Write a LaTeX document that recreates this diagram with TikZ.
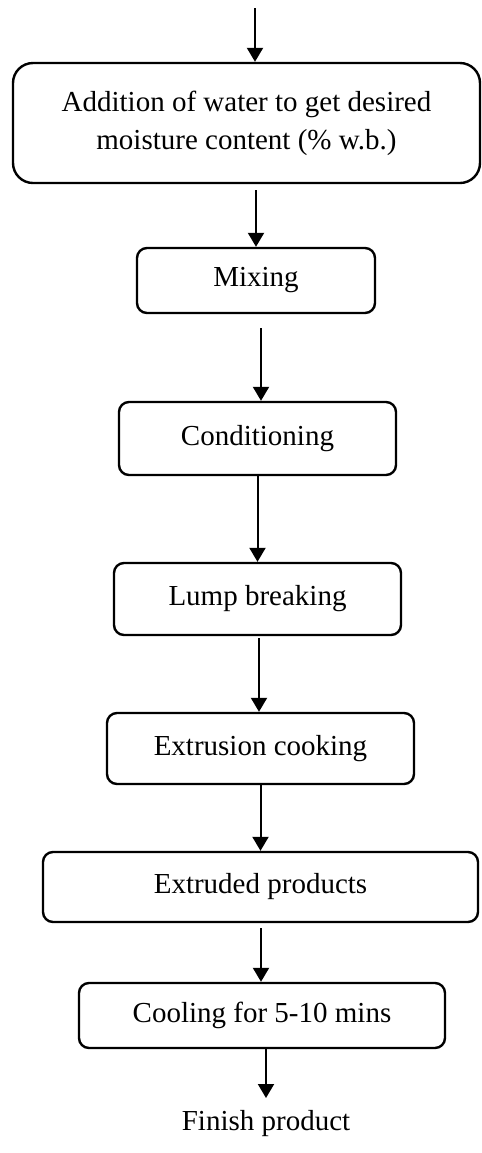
\documentclass[tikz,border=0pt]{standalone}
\usepackage{fontspec}
\setmainfont{Liberation Serif}
\usetikzlibrary{arrows.meta}
\tikzset{
    every node/.style={font=\fontsize{14.5}{19}\selectfont, align=center},
    stepbox/.style={draw, line width=1.2pt, rounded corners=5pt, inner sep=0pt},
    flow/.style={-{Triangle[length=7pt, width=8pt]}, line width=1pt}
}

\begin{document}
\begin{tikzpicture}[x=0.5pt, y=-0.5pt]
  \useasboundingbox (0,0) rectangle (482,1153);
  \node (water) [stepbox, rounded corners=10pt, minimum width=233.5pt, minimum height=60pt] at (246.5,123) {Addition of water to get desired\\moisture content (\% w.b.)};
  \node (mix) [stepbox, minimum width=119pt, minimum height=32.5pt] at (256,280.5) {Mixing};
  \node (cond) [stepbox, minimum width=138.5pt, minimum height=36.5pt] at (257.5,438.5) {Conditioning};
  \node (lump) [stepbox, minimum width=143.5pt, minimum height=36pt] at (257.5,599) {Lump breaking};
  \node (cook) [stepbox, minimum width=153.5pt, minimum height=35.5pt] at (260.5,748.5) {Extrusion cooking};
  \node (prod) [stepbox, minimum width=217.5pt, minimum height=35pt] at (260.5,887) {Extruded products};
  \node (cool) [stepbox, minimum width=183pt, minimum height=32.5pt] at (262,1015.5) {Cooling for 5-10 mins};
  \node (fin) at (266,1124) {Finish product};

  \coordinate (in) at (255,8);
  \coordinate (s1) at (256,190);
  \coordinate (s2) at (261,328);
  \coordinate (s4) at (259,638);
  \coordinate (s6) at (261,928);
  \coordinate (e7) at (266,1098);

  \draw[flow] (in) -- (in |- water.north);
  \draw[flow] (s1) -- (s1 |- mix.north);
  \draw[flow] (s2) -- (s2 |- cond.north);
  \draw[flow] (cond.south) -- (lump.north);
  \draw[flow] (s4) -- (s4 |- cook.north);
  \draw[flow] (cook.south) -- (prod.north);
  \draw[flow] (s6) -- (s6 |- cool.north);
  \draw[flow] (cool.south -| e7) -- (e7);
\end{tikzpicture}
\end{document}
